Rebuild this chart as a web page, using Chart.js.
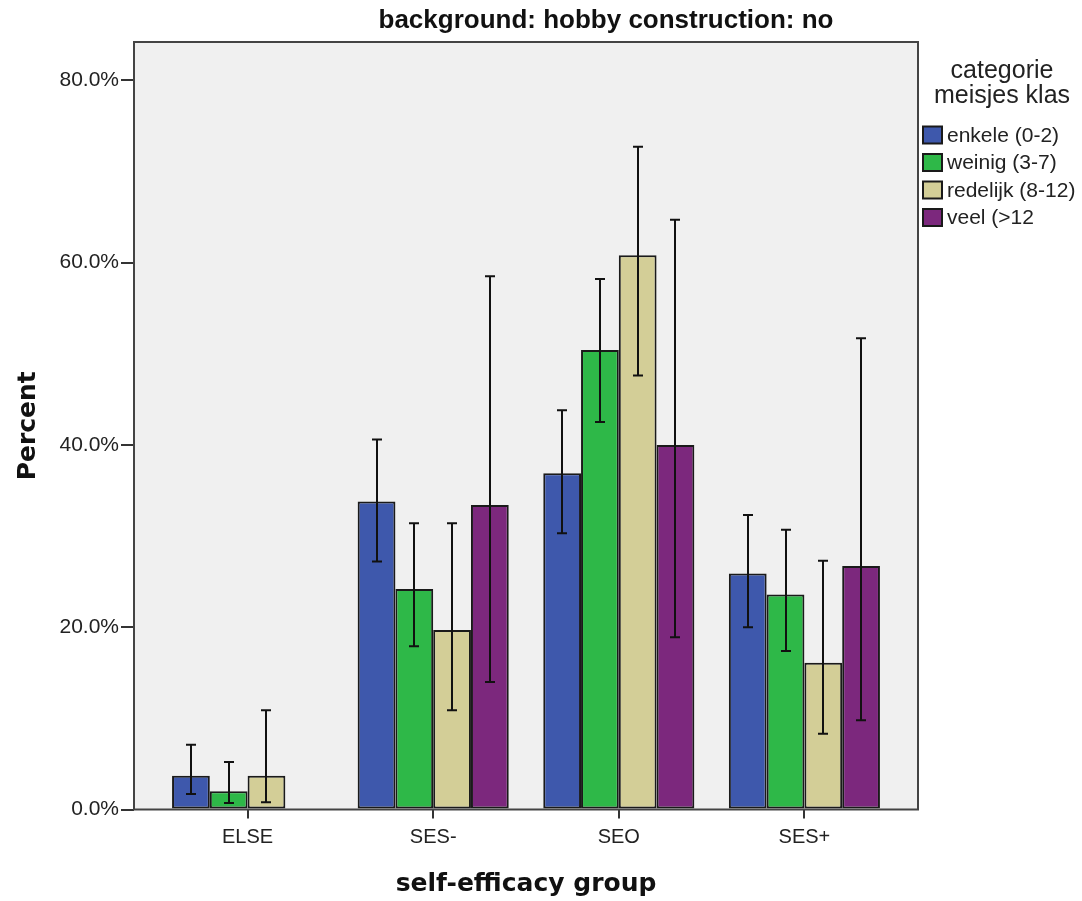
<!DOCTYPE html>
<html>
<head>
<meta charset="utf-8">
<script src="https://cdn.jsdelivr.net/npm/chart.js@4.4.1/dist/chart.umd.min.js"></script>
<style>
  html, body { margin: 0; padding: 0; background: #ffffff; }
  #wrap { width: 1082px; height: 901px; position: relative; }
</style>
</head>
<body>
<div id="wrap"><canvas id="c"></canvas></div>
<script>
// ---- data ----
const categories = ['ELSE', 'SES-', 'SEO', 'SES+'];
const seriesNames = ['enkele (0-2)', 'weinig (3-7)', 'redelijk (8-12)', 'veel (>12'];
const seriesColors = ['#3E58AC', '#2EB848', '#D3CE97', '#7C287D'];

const enkele = [3.7, 33.8, 36.9, 25.9];
const enkeleLow = [1.7, 27.2, 30.3, 20.0];
const enkeleHigh = [7.1, 40.6, 43.8, 32.3];

const weinig = [2.0, 24.2, 50.4, 23.6];
const weinigLow = [0.7, 17.9, 42.5, 17.4];
const weinigHigh = [5.2, 31.4, 58.2, 30.7];

const redelijk = [3.7, 19.7, 60.8, 16.1];
const redelijkLow = [0.8, 10.9, 47.6, 8.3];
const redelijkHigh = [10.9, 31.4, 72.7, 27.3];

const veel = [0, 33.4, 40.0, 26.7];
const veelLow = [null, 14.0, 18.9, 9.8];
const veelHigh = [null, 58.5, 64.7, 51.7];

const yTicks = [0, 20, 40, 60, 80];
const chartTitle = 'background: hobby construction: no';
const legendTitle = ['categorie', 'meisjes klas'];

const values = [enkele, weinig, redelijk, veel];
const lows = [enkeleLow, weinigLow, redelijkLow, veelLow];
const highs = [enkeleHigh, weinigHigh, redelijkHigh, veelHigh];

const datasets = values.map((vals, s) => ({
  label: seriesNames[s],
  data: vals.map((v, i) => ({ x: i, y: v })),
  backgroundColor: seriesColors[s],
  borderColor: '#1a1a1a',
  borderWidth: 2,
  borderSkipped: false,
  categoryPercentage: 0.814,
  barPercentage: 1.0,
  errLow: lows[s],
  errHigh: highs[s]
}));

const decor = {
  id: 'decor',
  beforeDraw(chart) {
    const { ctx, chartArea: a } = chart;
    ctx.save();
    ctx.fillStyle = '#ffffff';
    ctx.fillRect(0, 0, chart.width, chart.height);
    ctx.fillStyle = '#F0F0F0';
    ctx.fillRect(a.left, a.top, a.right - a.left, a.bottom - a.top);
    ctx.restore();
  },
  afterDatasetsDraw(chart) {
    const { ctx } = chart;
    const ys = chart.scales.y;
    ctx.save();
    ctx.strokeStyle = '#111111';
    ctx.lineWidth = 2;
    chart.data.datasets.forEach((ds, di) => {
      const meta = chart.getDatasetMeta(di);
      meta.data.forEach((el, i) => {
        const lo = ds.errLow[i], hi = ds.errHigh[i];
        if (lo == null || hi == null) return;
        const x = Math.round(el.x);
        const y1 = ys.getPixelForValue(lo), y2 = ys.getPixelForValue(hi);
        ctx.beginPath();
        ctx.moveTo(x, y1); ctx.lineTo(x, y2);
        ctx.moveTo(x - 5, y1); ctx.lineTo(x + 5, y1);
        ctx.moveTo(x - 5, y2); ctx.lineTo(x + 5, y2);
        ctx.stroke();
      });
    });
    ctx.restore();
  },
  afterDraw(chart) {
    const { ctx, chartArea: a } = chart;
    ctx.save();
    // frame
    ctx.strokeStyle = '#444444';
    ctx.lineWidth = 2;
    ctx.strokeRect(a.left, a.top, a.right - a.left, a.bottom - a.top);
    // title
    ctx.fillStyle = '#111111';
    ctx.font = 'bold 26px "Liberation Sans", Arial, sans-serif';
    ctx.textAlign = 'center';
    ctx.textBaseline = 'alphabetic';
    ctx.fillText(chartTitle, 606, 28);
    // legend title
    ctx.fillStyle = '#222222';
    ctx.font = '25px "Liberation Sans", Arial, sans-serif';
    ctx.fillText(legendTitle[0], 1002, 78);
    ctx.fillText(legendTitle[1], 1002, 103);
    // legend items
    ctx.textAlign = 'left';
    ctx.textBaseline = 'middle';
    ctx.font = '21px "Liberation Sans", Arial, sans-serif';
    chart.data.datasets.forEach((ds, i) => {
      const cy = 135 + i * 27.5;
      ctx.fillStyle = ds.backgroundColor;
      ctx.fillRect(923, cy - 8.5, 19, 17);
      ctx.strokeStyle = '#1a1a1a';
      ctx.lineWidth = 2;
      ctx.strokeRect(923, cy - 8.5, 19, 17);
      ctx.fillStyle = '#222222';
      ctx.fillText(ds.label, 947, cy + 1);
    });
    ctx.restore();
  }
};

new Chart(document.getElementById('c'), {
  type: 'bar',
  data: { datasets },
  plugins: [decor],
  options: {
    responsive: true,
    maintainAspectRatio: false,
    animation: false,
    layout: { padding: { top: 42, right: 164, left: 0, bottom: 0 } },
    plugins: { legend: { display: false }, title: { display: false }, tooltip: { enabled: false } },
    scales: {
      x: {
        type: 'linear',
        min: -0.612,
        max: 3.612,
        offset: false,
        afterBuildTicks: s => { s.ticks = categories.map((c, i) => ({ value: i })); },
        afterFit: s => { s.height = 91.5; },
        border: { display: false },
        grid: { offset: false, drawOnChartArea: false, drawTicks: true, tickLength: 9, color: '#333333', lineWidth: 2 },
        ticks: {
          autoSkip: false, maxRotation: 0, padding: 7, color: '#222222',
          font: { family: '"Liberation Sans", Arial, sans-serif', size: 20 },
          callback: v => categories[v]
        },
        title: {
          display: true, text: 'self-efficacy group', color: '#111111',
          font: { family: '"DejaVu Sans", sans-serif', size: 25, weight: 'bold', lineHeight: 1 },
          padding: { top: 0, bottom: 4 }
        }
      },
      y: {
        min: 0,
        max: 84.2,
        afterBuildTicks: s => { s.ticks = yTicks.map(v => ({ value: v })); },
        afterFit: s => { s.width = 134; },
        border: { display: false },
        grid: { drawOnChartArea: false, drawTicks: true, tickLength: 13, color: '#333333', lineWidth: 2 },
        ticks: {
          padding: 2, color: '#222222',
          font: { family: '"Liberation Sans", Arial, sans-serif', size: 21 },
          callback: v => v.toFixed(1) + '%'
        },
        title: {
          display: true, text: 'Percent', color: '#111111',
          font: { family: '"DejaVu Sans", sans-serif', size: 25, weight: 'bold', lineHeight: 1 },
          padding: { top: 16, bottom: 0 }
        }
      }
    }
  }
});
</script>
</body>
</html>
